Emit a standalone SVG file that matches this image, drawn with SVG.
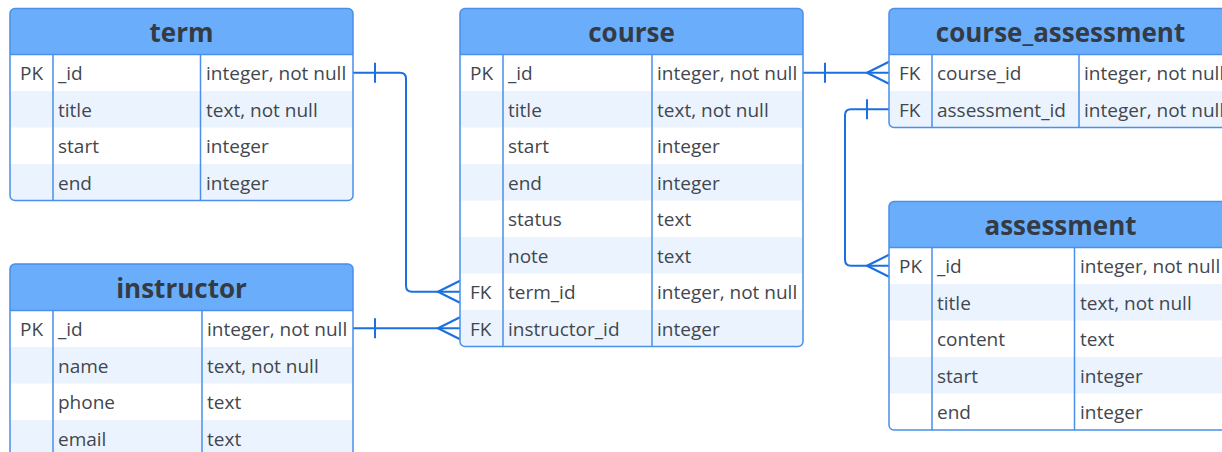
<svg xmlns="http://www.w3.org/2000/svg" width="1222" height="452" viewBox="0 0 1222 452">
  <style>
    .frame { fill: none; stroke: #4a8fe9; stroke-width: 1.5; }
    .head { fill: #6aaefb; }
    .alt { fill: #ebf4fe; }
    .rule { stroke: #4a8fe9; stroke-width: 1.5; fill: none; }
    .title { font-family: "Open Sans", "Noto Sans", sans-serif; font-weight: 700; font-size: 26px; fill: #353b45; text-anchor: middle; }
    .cell { font-family: "Open Sans", "Noto Sans", sans-serif; font-size: 19px; fill: #42474f; }
    .link { fill: none; stroke: #1b6fe0; stroke-width: 2; stroke-linejoin: round; }
  </style>
  <defs>
    <clipPath id="clip-term"><rect x="10" y="8.5" width="343" height="192" rx="5"/></clipPath>
    <clipPath id="clip-course"><rect x="460" y="8.5" width="343" height="338" rx="5"/></clipPath>
    <clipPath id="clip-ca"><rect x="889" y="8.5" width="343" height="119" rx="5"/></clipPath>
    <clipPath id="clip-assessment"><rect x="889" y="201.5" width="343" height="228.5" rx="5"/></clipPath>
    <clipPath id="clip-instructor"><rect x="10" y="264" width="343" height="192.5" rx="5"/></clipPath>
  </defs>

  <!-- relationship lines -->
  <g id="connectors">
    <!-- term._id  ->  course.term_id -->
    <path class="link" d="M353,72.75 H400 Q406,72.75 406,78.75 V285.75 Q406,291.75 412,291.75 H460"/>
    <path class="link" d="M375,62.75 V82.75"/>
    <path class="link" d="M460,280.75 L438,291.75 L460,302.75"/>
    <!-- instructor._id  ->  course.instructor_id -->
    <path class="link" d="M353,328.25 H460"/>
    <path class="link" d="M375,318.25 V338.25"/>
    <path class="link" d="M460,317.25 L438,328.25 L460,339.25"/>
    <!-- course._id  ->  course_assessment.course_id -->
    <path class="link" d="M803,72.75 H889"/>
    <path class="link" d="M825,62.75 V82.75"/>
    <path class="link" d="M889,61.75 L867,72.75 L889,83.75"/>
    <!-- assessment._id  ->  course_assessment.assessment_id -->
    <path class="link" d="M889,109.25 H851 Q845,109.25 845,115.25 V259.75 Q845,265.75 851,265.75 H889"/>
    <path class="link" d="M867,99.25 V119.25"/>
    <path class="link" d="M889,254.75 L867,265.75 L889,276.75"/>
  </g>

  <!-- term -->
  <g id="term">
    <g clip-path="url(#clip-term)">
      <rect x="10" y="8.5" width="343" height="192" fill="#ffffff"/>
      <rect class="head" x="10" y="8.5" width="343" height="46"/>
      <rect class="alt" x="10" y="91" width="343" height="36.5"/>
      <rect class="alt" x="10" y="164" width="343" height="36.5"/>
    </g>
    <path class="rule" d="M10,54.5 H353 M53,54.5 V200.5 M200.5,54.5 V200.5"/>
    <rect class="frame" x="10" y="8.5" width="343" height="192" rx="5"/>
    <text class="title" x="181.5" y="41.5">term</text>
    <text class="cell" x="20" y="80.25">PK</text>
    <text class="cell" x="58" y="80.25">_id</text>
    <text class="cell" x="206" y="80.25">integer, not null</text>
    <text class="cell" x="58" y="116.75">title</text>
    <text class="cell" x="206" y="116.75">text, not null</text>
    <text class="cell" x="58" y="153.25">start</text>
    <text class="cell" x="206" y="153.25">integer</text>
    <text class="cell" x="58" y="189.75">end</text>
    <text class="cell" x="206" y="189.75">integer</text>
  </g>

  <!-- course -->
  <g id="course">
    <g clip-path="url(#clip-course)">
      <rect x="460" y="8.5" width="343" height="338" fill="#ffffff"/>
      <rect class="head" x="460" y="8.5" width="343" height="46"/>
      <rect class="alt" x="460" y="91" width="343" height="36.5"/>
      <rect class="alt" x="460" y="164" width="343" height="36.5"/>
      <rect class="alt" x="460" y="237" width="343" height="36.5"/>
      <rect class="alt" x="460" y="310" width="343" height="36.5"/>
    </g>
    <path class="rule" d="M460,54.5 H803 M503,54.5 V346.5 M652,54.5 V346.5"/>
    <rect class="frame" x="460" y="8.5" width="343" height="338" rx="5"/>
    <text class="title" x="631.5" y="41.5">course</text>
    <text class="cell" x="470" y="80.25">PK</text>
    <text class="cell" x="508" y="80.25">_id</text>
    <text class="cell" x="657" y="80.25">integer, not null</text>
    <text class="cell" x="508" y="116.75">title</text>
    <text class="cell" x="657" y="116.75">text, not null</text>
    <text class="cell" x="508" y="153.25">start</text>
    <text class="cell" x="657" y="153.25">integer</text>
    <text class="cell" x="508" y="189.75">end</text>
    <text class="cell" x="657" y="189.75">integer</text>
    <text class="cell" x="508" y="226.25">status</text>
    <text class="cell" x="657" y="226.25">text</text>
    <text class="cell" x="508" y="262.75">note</text>
    <text class="cell" x="657" y="262.75">text</text>
    <text class="cell" x="470" y="299.25">FK</text>
    <text class="cell" x="508" y="299.25">term_id</text>
    <text class="cell" x="657" y="299.25">integer, not null</text>
    <text class="cell" x="470" y="335.75">FK</text>
    <text class="cell" x="508" y="335.75">instructor_id</text>
    <text class="cell" x="657" y="335.75">integer</text>
  </g>

  <!-- course_assessment -->
  <g id="course_assessment">
    <g clip-path="url(#clip-ca)">
      <rect x="889" y="8.5" width="343" height="119" fill="#ffffff"/>
      <rect class="head" x="889" y="8.5" width="343" height="46"/>
      <rect class="alt" x="889" y="91" width="343" height="36.5"/>
    </g>
    <path class="rule" d="M889,54.5 H1232 M932,54.5 V127.5 M1079,54.5 V127.5"/>
    <rect class="frame" x="889" y="8.5" width="343" height="119" rx="5"/>
    <text class="title" x="1060.5" y="41.5">course_assessment</text>
    <text class="cell" x="899" y="80.25">FK</text>
    <text class="cell" x="937" y="80.25">course_id</text>
    <text class="cell" x="1084" y="80.25">integer, not null</text>
    <text class="cell" x="899" y="116.75">FK</text>
    <text class="cell" x="937" y="116.75">assessment_id</text>
    <text class="cell" x="1084" y="116.75">integer, not null</text>
  </g>

  <!-- assessment -->
  <g id="assessment">
    <g clip-path="url(#clip-assessment)">
      <rect x="889" y="201.5" width="343" height="228.5" fill="#ffffff"/>
      <rect class="head" x="889" y="201.5" width="343" height="46"/>
      <rect class="alt" x="889" y="284" width="343" height="36.5"/>
      <rect class="alt" x="889" y="357" width="343" height="36.5"/>
    </g>
    <path class="rule" d="M889,247.5 H1232 M932,247.5 V430 M1074.5,247.5 V430"/>
    <rect class="frame" x="889" y="201.5" width="343" height="228.5" rx="5"/>
    <text class="title" x="1060.5" y="234.5">assessment</text>
    <text class="cell" x="899" y="273.25">PK</text>
    <text class="cell" x="937" y="273.25">_id</text>
    <text class="cell" x="1080" y="273.25">integer, not null</text>
    <text class="cell" x="937" y="309.75">title</text>
    <text class="cell" x="1080" y="309.75">text, not null</text>
    <text class="cell" x="937" y="346.25">content</text>
    <text class="cell" x="1080" y="346.25">text</text>
    <text class="cell" x="937" y="382.75">start</text>
    <text class="cell" x="1080" y="382.75">integer</text>
    <text class="cell" x="937" y="419.25">end</text>
    <text class="cell" x="1080" y="419.25">integer</text>
  </g>

  <!-- instructor -->
  <g id="instructor">
    <g clip-path="url(#clip-instructor)">
      <rect x="10" y="264" width="343" height="192.5" fill="#ffffff"/>
      <rect class="head" x="10" y="264" width="343" height="46.5"/>
      <rect class="alt" x="10" y="347" width="343" height="36.5"/>
      <rect class="alt" x="10" y="420" width="343" height="36.5"/>
    </g>
    <path class="rule" d="M10,310.5 H353 M53,310.5 V456.5 M202,310.5 V456.5"/>
    <rect class="frame" x="10" y="264" width="343" height="192.5" rx="5"/>
    <text class="title" x="181.5" y="297.5">instructor</text>
    <text class="cell" x="20" y="336.25">PK</text>
    <text class="cell" x="58" y="336.25">_id</text>
    <text class="cell" x="207" y="336.25">integer, not null</text>
    <text class="cell" x="58" y="372.75">name</text>
    <text class="cell" x="207" y="372.75">text, not null</text>
    <text class="cell" x="58" y="409.25">phone</text>
    <text class="cell" x="207" y="409.25">text</text>
    <text class="cell" x="58" y="445.75">email</text>
    <text class="cell" x="207" y="445.75">text</text>
  </g>
</svg>
